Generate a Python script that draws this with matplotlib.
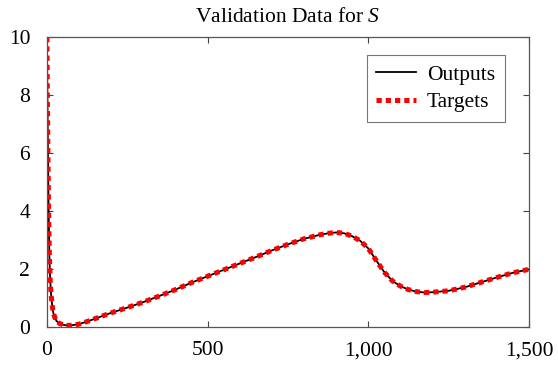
import numpy as np
import matplotlib
matplotlib.use("Agg")
import matplotlib.pyplot as plt
from matplotlib.ticker import FuncFormatter

plt.rcParams['font.family'] = ['Liberation Serif', 'DejaVu Serif']
plt.rcParams['mathtext.fontset'] = 'custom'
plt.rcParams['mathtext.it'] = 'Liberation Serif:italic'
plt.rcParams['mathtext.rm'] = 'Liberation Serif'

# values
t = [0, 2, 4, 6, 8, 10, 13, 16, 20, 25, 30, 40, 50, 60, 75, 100, 125, 150,
     200, 250, 300, 350, 400, 450, 500, 550, 600, 650, 700, 750, 800, 850,
     875, 900, 925, 950, 975, 1000, 1025, 1050, 1075, 1100, 1125, 1150, 1175,
     1200, 1250, 1300, 1350, 1400, 1450, 1500]
s_vals = [10, 7.5, 5.3, 3.6, 2.4, 1.7, 1.15, 0.8, 0.5, 0.33, 0.22, 0.13, 0.09,
          0.07, 0.07, 0.11, 0.2, 0.3, 0.5, 0.68, 0.87, 1.08, 1.3, 1.54, 1.76,
          1.98, 2.2, 2.42, 2.65, 2.86, 3.05, 3.19, 3.24, 3.27, 3.24, 3.14, 2.98,
          2.72, 2.3, 1.9, 1.6, 1.42, 1.3, 1.23, 1.2, 1.21, 1.26, 1.38, 1.55,
          1.72, 1.88, 2.0]
outputs = s_vals
targets = s_vals

xticks = [0, 500, 1000, 1500]
yticks = [0, 2, 4, 6, 8, 10]

fig = plt.figure(figsize=(5.58, 3.67), dpi=100)
ax = fig.add_axes([0.084, 0.108, 0.864, 0.791])

ax.plot(t, outputs, color='black', lw=1.3, label='Outputs')
ax.plot(t, targets, color='red', lw=3.6, ls=(0, (1.05, 0.8)), label='Targets')

ax.set_xlim(0, 1500)
ax.set_ylim(0, 10)
ax.set_xticks(xticks)
ax.set_yticks(yticks)
ax.xaxis.set_major_formatter(FuncFormatter(lambda v, p: f"{int(v):,}"))
ax.tick_params(direction='in', length=4, width=0.8, color='#444444',
               top=True, right=True, labelsize=15.5)
ax.tick_params(axis='x', pad=10)
ax.tick_params(axis='y', pad=12)
for sp in ax.spines.values():
    sp.set_color('#555555')
    sp.set_linewidth(0.9)

ax.set_title('Validation Data for $S$', fontsize=15.5, pad=11)

leg = ax.legend(loc='upper right', bbox_to_anchor=(0.95, 0.938),
                borderaxespad=0, fontsize=15.5, fancybox=False,
                edgecolor='#777777', framealpha=1, handlelength=1.85,
                handletextpad=0.5, borderpad=0.45, labelspacing=0.35)
leg.get_frame().set_linewidth(0.8)

fig.savefig('out.png', dpi=100)
